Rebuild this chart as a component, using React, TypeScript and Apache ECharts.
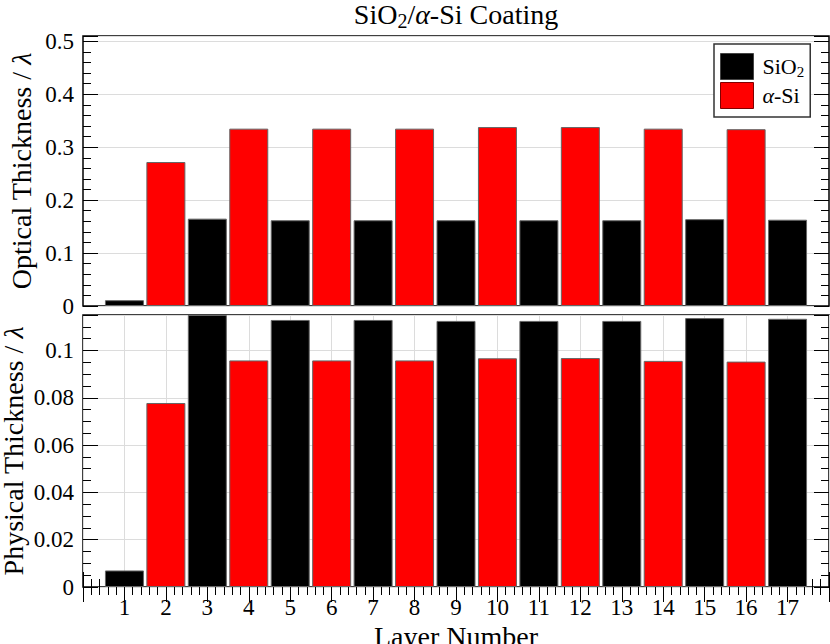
import React, { useEffect, useRef } from "react";
import * as echarts from "echarts";

const FONT = "Liberation Serif";

const sio2Layers = [1, 3, 5, 7, 9, 11, 13, 15, 17];
const asiLayers = [2, 4, 6, 8, 10, 12, 14, 16];
const sio2Optical = [0.011, 0.165, 0.162, 0.162, 0.162, 0.162, 0.162, 0.164, 0.163];
const asiOptical = [0.272, 0.335, 0.335, 0.335, 0.338, 0.338, 0.335, 0.334];
const sio2Physical = [0.007, 0.115, 0.1129, 0.1129, 0.1125, 0.1125, 0.1125, 0.1137, 0.1134];
const asiPhysical = [0.0778, 0.0958, 0.0958, 0.0958, 0.0967, 0.0968, 0.0956, 0.0953];
const xMin = 0;
const xMax = 18;
const opticalMax = 0.51;
const opticalStep = 0.1;
const opticalMinorStep = 0.02;
const physicalMax = 0.115;
const physicalStep = 0.02;
const physicalMinorStep = 0.005;

const pair = (xs: number[], ys: number[]) => xs.map((x, i) => [x, ys[i]]);

const isMultiple = (v: number, step: number) =>
  Math.abs(v / step - Math.round(v / step)) < 1e-6;

export default function App() {
  const ref = useRef<HTMLDivElement>(null);
  useEffect(() => {
    if (!ref.current) return;
    const chart = echarts.init(ref.current, null, { renderer: "svg" });

    const richBase = (size: number) => ({
      r: { fontFamily: FONT, fontSize: size, color: "#000" },
      i: { fontFamily: FONT, fontSize: size, fontStyle: "italic", color: "#000" },
      s: { fontFamily: FONT, fontSize: Math.round(size * 0.7), color: "#000", padding: [Math.round(size * 0.45), 0, 0, 0] },
    });

    const grids = [
      { left: 83, top: 36, width: 746, height: 270 },
      { left: 83, top: 315, width: 746, height: 272 },
    ];

    const tick = (len: number) => ({
      show: true,
      inside: true,
      length: len,
      lineStyle: { color: "#000", width: 1 },
    });

    const fmt = (step: number) => (v: number) =>
      isMultiple(v, step) ? "{r|" + (v === 0 ? "0" : String(parseFloat(v.toFixed(3)))) + "}" : "";

    const yAxisPair = (
      gridIndex: number,
      position: "left" | "right",
      max: number,
      step: number,
      minorStep: number,
      withLabels: boolean,
      name?: string,
      nameGap?: number
    ) => [
      {
        type: "value",
        gridIndex,
        position,
        min: 0,
        max,
        interval: step,
        axisLine: { show: false },
        axisTick: tick(15),
        splitLine: withLabels
          ? { show: true, lineStyle: { color: "#dcdcdc", width: 1 } }
          : { show: false },
        axisLabel: withLabels
          ? {
              show: true,
              margin: 9,
              fontFamily: FONT,
              fontSize: 23,
              color: "#000",
              formatter: fmt(step),
              rich: { r: { fontFamily: FONT, fontSize: 23, color: "#000" } },
            }
          : { show: false },
        name,
        nameLocation: "middle",
        nameGap,
        nameMoveOverlap: false,
        nameTextStyle: { fontFamily: FONT, fontSize: 28, color: "#000", rich: richBase(28) },
      },
      {
        type: "value",
        gridIndex,
        position,
        min: 0,
        max,
        interval: minorStep,
        axisLine: { show: false },
        axisTick: tick(8),
        splitLine: { show: false },
        axisLabel: { show: false },
      },
    ];

    const yAxis = [
      ...yAxisPair(0, "left", opticalMax, opticalStep, opticalMinorStep, true, "{r|Optical Thickness / }{i|λ}", 48),
      ...yAxisPair(0, "right", opticalMax, opticalStep, opticalMinorStep, false),
      ...yAxisPair(1, "left", physicalMax, physicalStep, physicalMinorStep, true, "{r|Physical Thickness / }{i|λ}", 56),
      ...yAxisPair(1, "right", physicalMax, physicalStep, physicalMinorStep, false),
    ];

    const minor = { show: true, splitNumber: 5, length: 8, lineStyle: { color: "#000", width: 1 } };

    const xAxis = [
      {
        type: "value",
        gridIndex: 0,
        min: xMin,
        max: xMax,
        interval: 1,
        axisLine: { show: false },
        axisTick: { show: false },
        axisLabel: { show: false },
        splitLine: { show: false },
      },
      {
        type: "value",
        gridIndex: 1,
        position: "bottom",
        min: xMin,
        max: xMax,
        interval: 1,
        axisLine: { show: false },
        axisTick: tick(15),
        minorTick: minor,
        splitLine: { show: true, lineStyle: { color: "#dcdcdc", width: 1 } },
        axisLabel: {
          show: true,
          margin: 9,
          fontFamily: FONT,
          fontSize: 23,
          color: "#000",
          formatter: (v: number) => (v >= 1 && v <= 17 ? "{r|" + v + "}" : ""),
          rich: { r: { fontFamily: FONT, fontSize: 23, color: "#000" } },
        },
        name: "{r|Layer Number}",
        nameLocation: "middle",
        nameGap: 35,
        nameMoveOverlap: false,
        nameTextStyle: { fontFamily: FONT, fontSize: 28, color: "#000", rich: richBase(28) },
      },
      {
        type: "value",
        gridIndex: 1,
        position: "top",
        min: xMin,
        max: xMax,
        interval: 1,
        axisLine: { show: false },
        axisTick: tick(15),
        minorTick: minor,
        axisLabel: { show: false },
        splitLine: { show: false },
      },
    ];

    const barCommon = {
      type: "bar",
      barWidth: 39,
      barGap: "-100%",
      itemStyle: { borderColor: "#666", borderWidth: 1 },
    };

    const series = [
      { ...barCommon, name: "SiO2", xAxisIndex: 0, yAxisIndex: 0, data: pair(sio2Layers, sio2Optical), itemStyle: { ...barCommon.itemStyle, color: "#000" } },
      { ...barCommon, name: "α-Si", xAxisIndex: 0, yAxisIndex: 0, data: pair(asiLayers, asiOptical), itemStyle: { ...barCommon.itemStyle, color: "#ff0000" } },
      { ...barCommon, name: "SiO2", xAxisIndex: 1, yAxisIndex: 4, data: pair(sio2Layers, sio2Physical), itemStyle: { ...barCommon.itemStyle, color: "#000" } },
      { ...barCommon, name: "α-Si", xAxisIndex: 1, yAxisIndex: 4, data: pair(asiLayers, asiPhysical), itemStyle: { ...barCommon.itemStyle, color: "#ff0000" } },
    ];

    chart.setOption({
      animation: false,
      backgroundColor: "#fff",
      textStyle: { fontFamily: FONT },
      grid: grids.map((g) => ({
        ...g,
        show: true,
        borderColor: "#000",
        borderWidth: 1.5,
        backgroundColor: "transparent",
        containLabel: false,
        outerBoundsMode: "none",
      })),
      xAxis,
      yAxis,
      series,
      legend: {
        left: 714,
        top: 44,
        orient: "vertical",
        itemWidth: 33,
        itemHeight: 26,
        itemGap: 2,
        padding: [9, 6, 8, 6],
        borderColor: "#333",
        borderWidth: 1.5,
        backgroundColor: "#fff",
        icon: "rect",
        data: [
          { name: "SiO2", itemStyle: { color: "#000", borderColor: "#444", borderWidth: 1 } },
          { name: "α-Si", itemStyle: { color: "#ff0000", borderColor: "#800000", borderWidth: 1 } },
        ],
        formatter: (n: string) => (n === "SiO2" ? "{r|SiO}{s|2}" : "{i|α}{r|-Si}"),
        textStyle: { fontFamily: FONT, rich: richBase(22), padding: [0, 0, 0, 4] },
      },
      graphic: [
        {
          type: "text",
          x: 456,
          y: -2,
          style: {
            text: "{r|SiO}{s|2}{r|/}{i|α}{r|-Si Coating}",
            rich: richBase(28),
            fontFamily: FONT,
            fontSize: 28,
            align: "center",
            verticalAlign: "top",
          },
        },
      ],
    } as any);

    return () => chart.dispose();
  }, []);

  return (
    <div
      ref={ref}
      style={{ position: "absolute", left: 0, top: 0, width: 830, height: 644 }}
    />
  );
}
